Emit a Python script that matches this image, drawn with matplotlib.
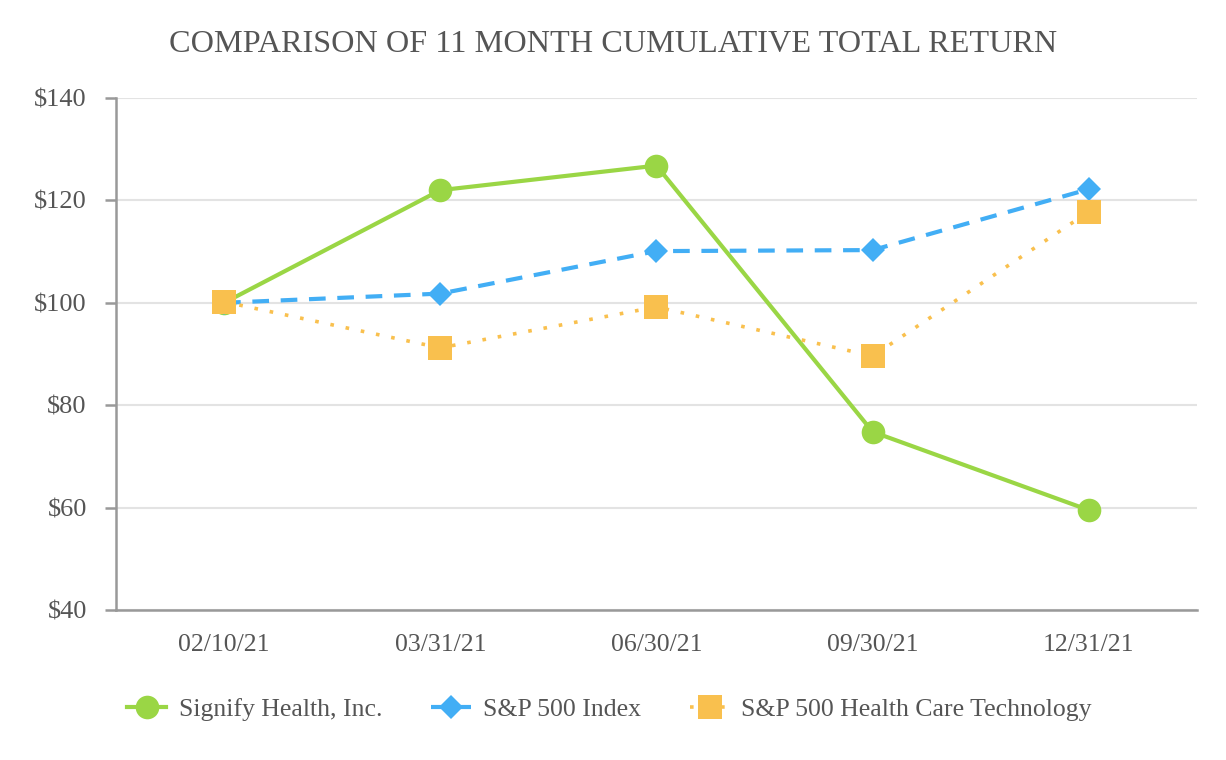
import matplotlib
matplotlib.use("Agg")
import matplotlib.pyplot as plt
from matplotlib.lines import Line2D

dates = ["02/10/21", "03/31/21", "06/30/21", "09/30/21", "12/31/21"]
signify = [100.0, 122.0, 126.8, 74.8, 59.5]
sp500 = [100.0, 101.8, 110.1, 110.3, 122.2]
hc_tech = [100.2, 91.2, 99.2, 89.6, 117.8]
yticks = [40, 60, 80, 100, 120, 140]
ytick_labels = ["$40", "$60", "$80", "$100", "$120", "$140"]
names = ["Signify Health, Inc.", "S&P 500 Index", "S&P 500 Health Care Technology"]

plt.rcParams['font.family'] = ['Liberation Serif', 'DejaVu Serif']
txt = "#555555"

fig = plt.figure(figsize=(12.26, 7.6), dpi=100)
ax = fig.add_axes([0.0946, 0.1974, 0.9763 - 0.0946, 0.871 - 0.1974])

x = list(range(len(dates)))
green = "#9ad645"
blue = "#42aef5"
orange = "#f9c04e"

green_kw = dict(color=green, lw=3, marker="o", markersize=17, markeredgewidth=0)
blue_kw = dict(color=blue, lw=3, linestyle=(0, (4, 2.8)), marker="D",
               markersize=12.3, markeredgewidth=0)
orange_kw = dict(color=orange, lw=2.6, linestyle=(0, (1, 3.3)), marker="s",
                 markersize=17, markeredgewidth=0)

ax.plot(x, signify, zorder=3, **green_kw)
ax.plot(x, sp500, zorder=4, **blue_kw)
ax.plot(x, hc_tech, zorder=5, **orange_kw)

ax.set_xlim(-0.5, len(dates) - 0.5)
ax.set_ylim(40, 140)
ax.set_yticks(yticks)
ax.set_yticklabels(ytick_labels)
ax.set_xticks(x)
ax.set_xticklabels(dates)
ax.grid(axis="y", color="#e3e3e3", lw=1.5)
ax.set_axisbelow(True)
for s in ["top", "right"]:
    ax.spines[s].set_visible(False)
for s in ["left", "bottom"]:
    ax.spines[s].set_color("#999999")
    ax.spines[s].set_linewidth(1.8)
ax.tick_params(axis="y", length=8, width=1.8, color="#999999", labelsize=19,
               labelcolor=txt, pad=13)
ax.tick_params(axis="x", length=0, labelsize=18.5, labelcolor=txt, pad=17)

fig.text(0.5, 0.941, "COMPARISON OF 11 MONTH CUMULATIVE TOTAL RETURN",
         ha="center", va="center", fontsize=23.2, color=txt)

handles = [Line2D([], [], **green_kw), Line2D([], [], **blue_kw),
           Line2D([], [], **orange_kw)]
fig.legend(handles, names, loc="center", bbox_to_anchor=(0.497, 0.067), ncol=3,
           frameon=False, fontsize=18.5, labelcolor=txt, handlelength=1.55,
           columnspacing=1.9, handletextpad=0.47)

fig.savefig("out.png", dpi=100)
